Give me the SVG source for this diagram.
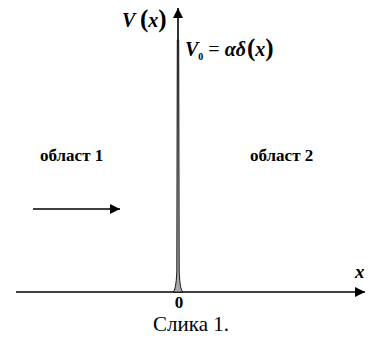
<svg xmlns="http://www.w3.org/2000/svg" width="373" height="338" viewBox="0 0 373 338">
<style>
.t{font-family:"Liberation Serif",serif;fill:#000}
.b{font-weight:bold}
.i{font-style:italic}
.ax{stroke:#000;stroke-width:1.6;fill:none}
.p{font-style:normal;font-size:25px}
</style>
<defs>
<marker id="ah2" viewBox="0 0 10 10" refX="10" refY="5" markerWidth="10" markerHeight="10" markerUnits="userSpaceOnUse" orient="auto"><path d="M0,0 L10,5 L0,10 Z" fill="#000"/></marker>
</defs>
<g id="connectors">
<line class="ax" x1="16" y1="292" x2="365" y2="292" marker-end="url(#ah2)"/>
<line class="ax" x1="178" y1="292" x2="178" y2="8" marker-end="url(#ah2)"/>
<line class="ax" x1="33" y1="209" x2="120" y2="209" marker-end="url(#ah2)"/>
<path d="M173,292 Q176,291 176.8,272 L177.3,40 L178.7,40 L179.2,272 Q180,291 183,292 Z" fill="#aaa" stroke="#000" stroke-width="0.9"/>
</g>
<g id="labels">
<text class="t b i" x="122" y="27" font-size="20">V <tspan class="p">(</tspan>x<tspan class="p">)</tspan></text>
<text class="t b i" x="185" y="56" font-size="20">V<tspan font-size="10" dy="4" font-style="normal">0</tspan><tspan dy="-4" font-style="normal" font-weight="normal"> = </tspan>αδ<tspan class="p" dx="1">(</tspan>x<tspan class="p">)</tspan></text>
<text class="t b" x="40" y="161" font-size="17">област 1</text>
<text class="t b" x="250" y="161" font-size="17">област 2</text>
<text class="t b i" x="355" y="278" font-size="19">x</text>
<text class="t b" x="179" y="308" font-size="17" text-anchor="middle">0</text>
<text class="t" x="191" y="331" font-size="21" text-anchor="middle">Слика 1.</text>
</g>
</svg>
